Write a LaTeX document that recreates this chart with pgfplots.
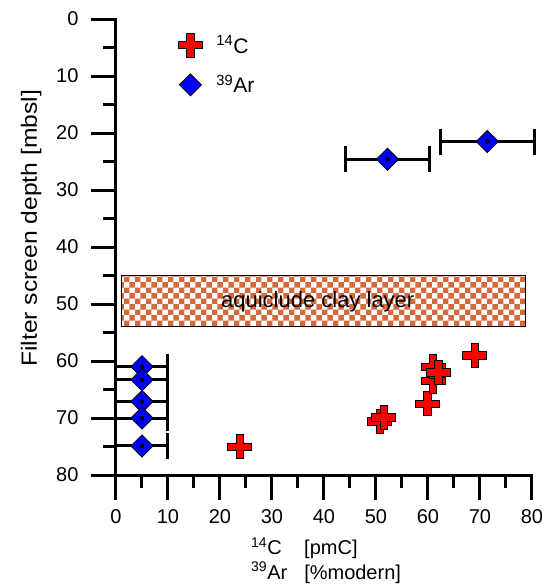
\documentclass[border=0pt]{standalone}
\usepackage{pgfplots}
\pgfplotsset{compat=1.18}
\usepackage{graphicx}
\usepackage{fontspec}
\setmainfont{Liberation Sans}
\usetikzlibrary{patterns}
\definecolor{claybrown}{RGB}{214,105,60}
\definecolor{ptred}{RGB}{255,0,0}
\definecolor{ptblue}{RGB}{0,0,255}

% thick filled plus, arm half length = mark size
\pgfdeclareplotmark{fatplus}{%
  \pgfpathmoveto{\pgfpoint{-0.3\pgfplotmarksize}{\pgfplotmarksize}}%
  \pgfpathlineto{\pgfpoint{0.3\pgfplotmarksize}{\pgfplotmarksize}}%
  \pgfpathlineto{\pgfpoint{0.3\pgfplotmarksize}{0.3\pgfplotmarksize}}%
  \pgfpathlineto{\pgfpoint{\pgfplotmarksize}{0.3\pgfplotmarksize}}%
  \pgfpathlineto{\pgfpoint{\pgfplotmarksize}{-0.3\pgfplotmarksize}}%
  \pgfpathlineto{\pgfpoint{0.3\pgfplotmarksize}{-0.3\pgfplotmarksize}}%
  \pgfpathlineto{\pgfpoint{0.3\pgfplotmarksize}{-\pgfplotmarksize}}%
  \pgfpathlineto{\pgfpoint{-0.3\pgfplotmarksize}{-\pgfplotmarksize}}%
  \pgfpathlineto{\pgfpoint{-0.3\pgfplotmarksize}{-0.3\pgfplotmarksize}}%
  \pgfpathlineto{\pgfpoint{-\pgfplotmarksize}{-0.3\pgfplotmarksize}}%
  \pgfpathlineto{\pgfpoint{-\pgfplotmarksize}{0.3\pgfplotmarksize}}%
  \pgfpathlineto{\pgfpoint{-0.3\pgfplotmarksize}{0.3\pgfplotmarksize}}%
  \pgfpathclose
  \pgfusepathqfillstroke
}

\begin{document}
\begin{tikzpicture}
\useasboundingbox (-116pt,-112pt) rectangle (431pt,475pt);
\begin{axis}[
at={(0,0)},
anchor=south west,
scale only axis,
width=416pt,
height=456pt,
xmin=0, xmax=80,
ymin=0, ymax=80,
y dir=reverse,
clip=false,
axis line style={draw=none},
xtick pos=left,
ytick pos=left,
xtick={0,10,...,80},
ytick={0,10,...,80},
minor tick num=1,
tick align=outside,
major tick length=25pt,
minor tick length=13pt,
major tick style={line width=3pt, black},
minor tick style={line width=3pt, black},
tick label style={font=\fontsize{20}{24}\selectfont},
xticklabel style={yshift=-6pt},
yticklabel style={xshift=-9pt},
/pgf/number format/assume math mode=true,
xlabel={\begin{tabular}[t]{@{}l@{\hspace{17pt}}l@{}}\textsuperscript{14}C & [pmC]\\ \textsuperscript{39}Ar & [\%modern]\end{tabular}},
xlabel style={font=\fontsize{20}{24}\selectfont, at={(axis description cs:0.505,-0.1754)}, anchor=base},
ylabel={\scalebox{1.12}[1]{Filter screen depth [mbsl]}},
ylabel style={font=\fontsize{22}{24}\selectfont, at={(axis description cs:-0.19,0.541)}, anchor=base},
legend style={draw=none, fill=none, at={(axis cs:11.4,2.1)}, anchor=north west,
  font=\fontsize{21}{24}\selectfont, row sep=16pt},
legend image code/.code={\path[draw=none, fill=none] (0pt,0pt) (36pt,0pt);\draw[#1] plot coordinates {(12pt,0pt)};},
legend cell align=left,
]
\addplot[forget plot, draw=black, line width=1.2pt, fill=white,
  postaction={pattern=checkerboard, pattern color=claybrown}]
  coordinates {(1,45) (78.8,45) (78.8,54) (1,54)} --cycle;
\node[font=\fontsize{22}{24}\selectfont] at (axis cs:38.8,49.6) {aquiclude clay layer};

\addplot[only marks, mark=fatplus, mark size=12pt,
  mark options={fill=ptred, draw=black, line width=0.8pt}]
  coordinates {
(23.8,75.0)
(50.7,70.6)
(51.5,69.9)
(59.9,67.5)
(61.0,63.5)
(61.0,61.0)
(62.0,62.0)
(69.0,59.0)
};
\addlegendentry{\textsuperscript{14}C}

\addplot[only marks, mark=square*, mark size=7.8pt,
  mark options={rotate=45, fill=ptblue, draw=black, line width=0.8pt}]
  coordinates {
(5,61.0)
(5,63.3)
(5,67.1)
(5,70.0)
(5,74.9)
(52.2,24.6)
(71.4,21.5)
};
\addlegendentry{\textsuperscript{39}Ar}

% error bars on top of the diamonds
\addplot[forget plot, only marks, mark=none, black,
  error bars/.cd, x dir=both, x explicit, error mark=|,
  error bar style={line width=3pt, black},
  error mark options={line width=3pt, black, mark size=13pt}]
  coordinates {
(5,61.0) +- (5,0)
(5,63.3) +- (5,0)
(5,67.1) +- (5,0)
(5,70.0) +- (5,0)
(5,74.9) +- (5,0)
(52.2,24.6) +- (8,0)
(71.4,21.5) +- (9,0)
};

% axis lines: left and bottom only
\draw[line width=3pt, line cap=rect] (axis cs:0,0) -- (axis cs:0,80) -- (axis cs:80,80);
\end{axis}
\end{tikzpicture}
\end{document}
